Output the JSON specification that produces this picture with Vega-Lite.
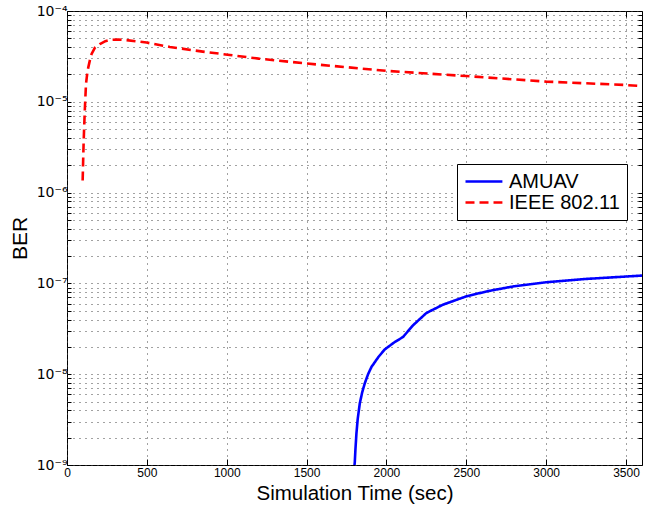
{
  "$schema": "https://vega.github.io/schema/vega-lite/v6.json",
  "autosize": {"type": "none"},
  "padding": {"left": 67, "top": 11, "right": 10, "bottom": 45},
  "width": 575,
  "height": 454,
  "background": "white",
  "config": {
    "font": "Liberation Sans",
    "view": {"stroke": "black", "strokeWidth": 1},
    "axisY": {"labelFontSize": 14}
  },
  "data": {
    "values": [
      {"t": 98, "ber": 1.36e-6, "series": "IEEE 802.11"},
      {"t": 101, "ber": 2.2e-6, "series": "IEEE 802.11"},
      {"t": 104, "ber": 3.5e-6, "series": "IEEE 802.11"},
      {"t": 107, "ber": 5.0e-6, "series": "IEEE 802.11"},
      {"t": 112, "ber": 8.5e-6, "series": "IEEE 802.11"},
      {"t": 119, "ber": 1.58e-5, "series": "IEEE 802.11"},
      {"t": 126, "ber": 2.0e-5, "series": "IEEE 802.11"},
      {"t": 133, "ber": 2.38e-5, "series": "IEEE 802.11"},
      {"t": 144, "ber": 2.9e-5, "series": "IEEE 802.11"},
      {"t": 154, "ber": 3.36e-5, "series": "IEEE 802.11"},
      {"t": 175, "ber": 3.95e-5, "series": "IEEE 802.11"},
      {"t": 206, "ber": 4.33e-5, "series": "IEEE 802.11"},
      {"t": 240, "ber": 4.65e-5, "series": "IEEE 802.11"},
      {"t": 275, "ber": 4.82e-5, "series": "IEEE 802.11"},
      {"t": 320, "ber": 4.86e-5, "series": "IEEE 802.11"},
      {"t": 373, "ber": 4.78e-5, "series": "IEEE 802.11"},
      {"t": 498, "ber": 4.49e-5, "series": "IEEE 802.11"},
      {"t": 644, "ber": 4.02e-5, "series": "IEEE 802.11"},
      {"t": 850, "ber": 3.57e-5, "series": "IEEE 802.11"},
      {"t": 1019, "ber": 3.28e-5, "series": "IEEE 802.11"},
      {"t": 1200, "ber": 2.99e-5, "series": "IEEE 802.11"},
      {"t": 1500, "ber": 2.64e-5, "series": "IEEE 802.11"},
      {"t": 2000, "ber": 2.19e-5, "series": "IEEE 802.11"},
      {"t": 2500, "ber": 1.92e-5, "series": "IEEE 802.11"},
      {"t": 3000, "ber": 1.67e-5, "series": "IEEE 802.11"},
      {"t": 3500, "ber": 1.53e-5, "series": "IEEE 802.11"},
      {"t": 3600, "ber": 1.49e-5, "series": "IEEE 802.11"},
      {"t": 1800, "ber": 1.0e-9, "series": "AMUAV"},
      {"t": 1802, "ber": 1.09e-9, "series": "AMUAV"},
      {"t": 1806, "ber": 1.5e-9, "series": "AMUAV"},
      {"t": 1812, "ber": 2.22e-9, "series": "AMUAV"},
      {"t": 1820, "ber": 3.2e-9, "series": "AMUAV"},
      {"t": 1833, "ber": 4.75e-9, "series": "AMUAV"},
      {"t": 1848, "ber": 6.3e-9, "series": "AMUAV"},
      {"t": 1864, "ber": 7.9e-9, "series": "AMUAV"},
      {"t": 1885, "ber": 1.0e-8, "series": "AMUAV"},
      {"t": 1906, "ber": 1.2e-8, "series": "AMUAV"},
      {"t": 1950, "ber": 1.55e-8, "series": "AMUAV"},
      {"t": 1989, "ber": 1.87e-8, "series": "AMUAV"},
      {"t": 2050, "ber": 2.25e-8, "series": "AMUAV"},
      {"t": 2104, "ber": 2.57e-8, "series": "AMUAV"},
      {"t": 2166, "ber": 3.45e-8, "series": "AMUAV"},
      {"t": 2250, "ber": 4.72e-8, "series": "AMUAV"},
      {"t": 2354, "ber": 5.83e-8, "series": "AMUAV"},
      {"t": 2500, "ber": 7.2e-8, "series": "AMUAV"},
      {"t": 2635, "ber": 8.22e-8, "series": "AMUAV"},
      {"t": 2800, "ber": 9.3e-8, "series": "AMUAV"},
      {"t": 3000, "ber": 1.03e-7, "series": "AMUAV"},
      {"t": 3250, "ber": 1.12e-7, "series": "AMUAV"},
      {"t": 3500, "ber": 1.19e-7, "series": "AMUAV"},
      {"t": 3600, "ber": 1.22e-7, "series": "AMUAV"}
    ]
  },
  "layer": [
    {
      "mark": {"type": "line", "clip": true, "strokeWidth": 2.6},
      "encoding": {
        "x": {
          "field": "t", "type": "quantitative",
          "scale": {"domain": [0, 3600], "nice": false, "zero": false},
          "axis": {
            "orient": "bottom",
            "title": "Simulation Time (sec)",
            "titleFontSize": 20.5, "titleFontWeight": "normal", "titleColor": "black", "titlePadding": 5,
            "values": [0, 500, 1000, 1500, 2000, 2500, 3000, 3500],
            "format": "d", "labelFlush": false,
            "labelFontSize": 12, "labelColor": "black", "labelPadding": 8,
            "domain": false,
            "ticks": true, "tickSize": -6, "tickColor": "black",
            "grid": true, "gridColor": "#444", "gridDash": [1, 5], "gridWidth": 1
          }
        },
        "y": {
          "field": "ber", "type": "quantitative",
          "scale": {"type": "log", "domain": [1e-9, 1e-4], "nice": false},
          "axis": {
            "orient": "left",
            "title": "BER",
            "titleFontSize": 21, "titleFontWeight": "normal", "titleColor": "black", "titlePadding": 6,
            "values": [1e-9, 2e-9, 3e-9, 4e-9, 5e-9, 6e-9, 7e-9, 8e-9, 9e-9,
                       1e-8, 2e-8, 3e-8, 4e-8, 5e-8, 6e-8, 7e-8, 8e-8, 9e-8,
                       1e-7, 2e-7, 3e-7, 4e-7, 5e-7, 6e-7, 7e-7, 8e-7, 9e-7,
                       1e-6, 2e-6, 3e-6, 4e-6, 5e-6, 6e-6, 7e-6, 8e-6, 9e-6,
                       1e-5, 2e-5, 3e-5, 4e-5, 5e-5, 6e-5, 7e-5, 8e-5, 9e-5, 1e-4],
            "labelExpr": "abs(log(datum.value)/LN10 - round(log(datum.value)/LN10)) < 0.001 ? '10⁻' + ['⁰','¹','²','³','⁴','⁵','⁶','⁷','⁸','⁹'][-round(log(datum.value)/LN10)] : ''",
            "labelFont": "DejaVu Sans", "labelOverlap": false, "labelBound": false,
            "labelFontSize": 14, "labelColor": "black", "labelPadding": 4,
            "domain": false,
            "ticks": true, "tickColor": "black", "tickSize": -4,
            "grid": true, "gridColor": "#444", "gridDash": [1, 5], "gridWidth": 1
          }
        },
        "color": {
          "field": "series", "type": "nominal",
          "scale": {"domain": ["AMUAV", "IEEE 802.11"], "range": ["#0000FF", "#FF0000"]},
          "legend": {
            "title": null, "orient": "none", "legendX": 390, "legendY": 153,
            "strokeColor": "black", "fillColor": "white", "padding": 7,
            "labelFontSize": 20, "labelColor": "black", "labelOffset": 24,
            "symbolType": "M-1,0H3.1", "symbolSize": 324, "symbolStrokeWidth": 2.6,
            "rowPadding": 0
          }
        },
        "strokeDash": {
          "field": "series", "type": "nominal",
          "scale": {"domain": ["AMUAV", "IEEE 802.11"], "range": [[1, 0], [9, 5]]},
          "legend": {
            "title": null, "orient": "none", "legendX": 390, "legendY": 153,
            "strokeColor": "black", "fillColor": "white", "padding": 7,
            "labelFontSize": 20, "labelColor": "black", "labelOffset": 24,
            "symbolType": "M-1,0H3.1", "symbolSize": 324, "symbolStrokeWidth": 2.6,
            "rowPadding": 0
          }
        }
      }
    },
    {
      "mark": {"type": "line", "strokeOpacity": 0},
      "encoding": {
        "x": {
          "field": "t", "type": "quantitative",
          "axis": {
            "orient": "top", "title": null, "labels": false, "domain": false, "grid": false,
            "values": [0, 500, 1000, 1500, 2000, 2500, 3000, 3500],
            "ticks": true, "tickSize": -6, "tickColor": "black"
          }
        },
        "y": {
          "field": "ber", "type": "quantitative",
          "axis": {
            "orient": "right", "title": null, "labels": false, "domain": false, "grid": false,
            "values": [1e-9, 2e-9, 3e-9, 4e-9, 5e-9, 6e-9, 7e-9, 8e-9, 9e-9,
                       1e-8, 2e-8, 3e-8, 4e-8, 5e-8, 6e-8, 7e-8, 8e-8, 9e-8,
                       1e-7, 2e-7, 3e-7, 4e-7, 5e-7, 6e-7, 7e-7, 8e-7, 9e-7,
                       1e-6, 2e-6, 3e-6, 4e-6, 5e-6, 6e-6, 7e-6, 8e-6, 9e-6,
                       1e-5, 2e-5, 3e-5, 4e-5, 5e-5, 6e-5, 7e-5, 8e-5, 9e-5, 1e-4],
            "ticks": true, "tickColor": "black", "tickSize": -4
          }
        },
        "detail": {"field": "series", "type": "nominal"}
      }
    }
  ],
  "resolve": {"axis": {"x": "independent", "y": "independent"}}
}
